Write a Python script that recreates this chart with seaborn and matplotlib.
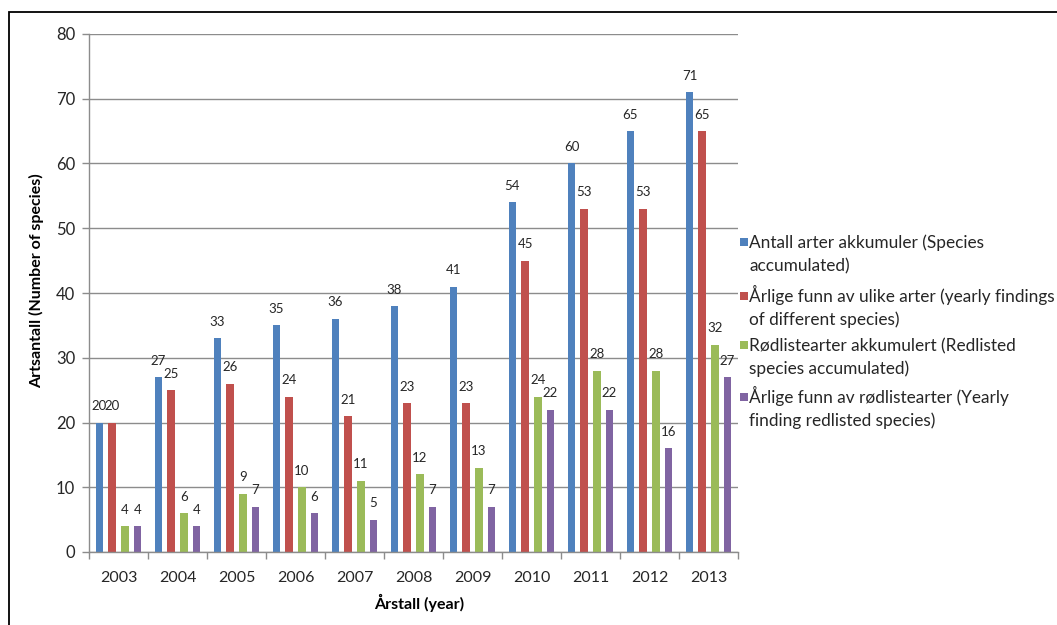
import matplotlib
matplotlib.use("Agg")
import matplotlib.pyplot as plt
from matplotlib.patches import Rectangle
from matplotlib.ticker import FixedLocator, MultipleLocator
import seaborn as sns
import pandas as pd

years = ["2003", "2004", "2005", "2006", "2007", "2008", "2009", "2010", "2011", "2012", "2013"]
species_accumulated = [20, 27, 33, 35, 36, 38, 41, 54, 60, 65, 71]
yearly_species = [20, 25, 26, 24, 21, 23, 23, 45, 53, 53, 65]
redlisted_accumulated = [4, 6, 9, 10, 11, 12, 13, 24, 28, 28, 32]
yearly_redlisted = [4, 4, 7, 6, 5, 7, 7, 22, 22, 16, 27]

series_names = [
    "Antall arter akkumuler (Species accumulated)",
    "Årlige funn av ulike arter (yearly findings of different species)",
    "Rødlistearter akkumulert (Redlisted species accumulated)",
    "Årlige funn av rødlistearter (Yearly finding redlisted species)",
]
legend_lines = [
    ["Antall arter akkumuler (Species", "accumulated)"],
    ["Årlige funn av ulike arter (yearly findings", "of different species)"],
    ["Rødlistearter akkumulert (Redlisted", "species accumulated)"],
    ["Årlige funn av rødlistearter (Yearly", "finding redlisted species)"],
]
series_values = [species_accumulated, yearly_species, redlisted_accumulated, yearly_redlisted]
colors = ["#4F81BD", "#C0504D", "#9BBB59", "#8064A2"]

df = pd.DataFrame(
    [(y, name, v) for name, vals in zip(series_names, series_values) for y, v in zip(years, vals)],
    columns=["year", "series", "count"],
)

sns.set_theme(style="white")
plt.rcParams["font.family"] = ["Lato", "DejaVu Sans"]
text_color = "#262626"
axis_gray = "#8C8C8C"

W, H = 1057, 625
fig = plt.figure(figsize=(W / 100, H / 100), dpi=100)
ax = fig.add_axes([89 / W, 1 - 552 / H, (738 - 89) / W, (552 - 34) / H])

sns.barplot(
    data=df, x="year", y="count", hue="series", hue_order=series_names,
    palette=colors, width=0.86, gap=0.4, saturation=1, legend=False,
    linewidth=0, ax=ax,
)

for cont in ax.containers:
    ax.bar_label(cont, padding=7.5, fontsize=9.5, color=text_color)

ax.set_ylim(0, 80)
ax.set_xlim(-0.5, len(years) - 0.5)
ax.yaxis.set_major_locator(MultipleLocator(10))
ax.grid(axis="y", color=axis_gray, linewidth=1, linestyle="-")
ax.set_axisbelow(True)

for side in ["top", "right"]:
    ax.spines[side].set_visible(False)
for side in ["left", "bottom"]:
    ax.spines[side].set_color(axis_gray)
    ax.spines[side].set_linewidth(1)

ax.xaxis.set_minor_locator(FixedLocator([i - 0.5 for i in range(len(years) + 1)]))
ax.tick_params(axis="x", which="major", length=0, pad=14, labelsize=11.5, labelcolor=text_color)
ax.tick_params(axis="x", which="minor", length=5, width=1, color=axis_gray, direction="out", bottom=True)
ax.tick_params(axis="y", which="major", length=5, width=1, color=axis_gray, direction="out",
               left=True, pad=5, labelsize=12, labelcolor=text_color)

ax.set_xlabel("Årstall (year)", fontsize=11.5, fontweight="bold", color="black")
ax.set_ylabel("Artsantall (Number of species)", fontsize=11.5, fontweight="bold", color="black")
ax.xaxis.label.set_va("center")
ax.yaxis.label.set_va("center")
ax.xaxis.set_label_coords((419 - 89) / 649, (552 - 603) / 518)
ax.yaxis.set_label_coords((37 - 89) / 649, (552 - 281) / 518)

# legend: colored squares with two-line labels
first_baselines = [248, 302, 351, 403]
line_step = 23
for lines, col, base in zip(legend_lines, colors, first_baselines):
    fig.add_artist(Rectangle((740 / W, 1 - (base - 2) / H), 8 / W, 8 / H,
                             transform=fig.transFigure, facecolor=col, edgecolor="none"))
    for k, line in enumerate(lines):
        fig.text(749 / W, 1 - (base + k * line_step) / H, line, transform=fig.transFigure,
                 fontsize=12.4, color=text_color, ha="left", va="baseline")

# outer frame
fig.add_artist(Rectangle((9 / W, -0.5), 2.0, 1.5 - 12 / H, transform=fig.transFigure,
                         facecolor="none", edgecolor="black", linewidth=1.3, clip_on=False))

fig.savefig("out.png", dpi=100)
